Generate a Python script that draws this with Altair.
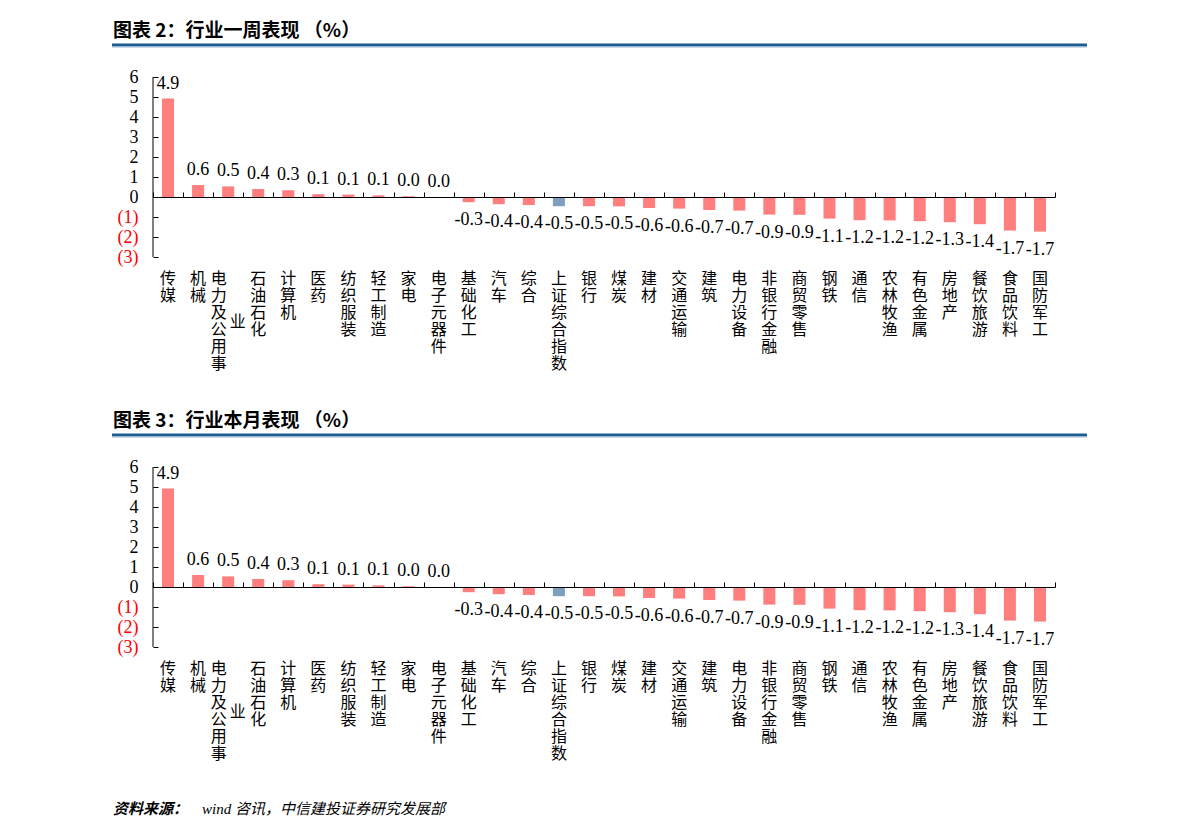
import altair as alt
import pandas as pd

CATEGORIES = ["传媒", "机械", "电力及公用事业", "石油石化", "计算机", "医药", "纺织服装",
              "轻工制造", "家电", "电子元器件", "基础化工", "汽车", "综合", "上证综合指数",
              "银行", "煤炭", "建材", "交通运输", "建筑", "电力设备", "非银行金融", "商贸零售",
              "钢铁", "通信", "农林牧渔", "有色金属", "房地产", "餐饮旅游", "食品饮料", "国防军工"]
WEEK = [4.92, 0.60, 0.53, 0.40, 0.34, 0.14, 0.12, 0.08, 0.04, 0.0, -0.26, -0.36, -0.40,
        -0.46, -0.46, -0.47, -0.55, -0.58, -0.65, -0.68, -0.88, -0.89, -1.08, -1.16,
        -1.17, -1.21, -1.26, -1.36, -1.68, -1.73]
MONTH = [4.92, 0.60, 0.53, 0.40, 0.34, 0.14, 0.12, 0.08, 0.04, 0.0, -0.26, -0.36, -0.40,
         -0.46, -0.46, -0.47, -0.55, -0.58, -0.65, -0.68, -0.88, -0.89, -1.08, -1.16,
         -1.17, -1.21, -1.26, -1.36, -1.68, -1.73]
INDEX_NAME = "上证综合指数"
Y_TICKS = [-3, -2, -1, 0, 1, 2, 3, 4, 5, 6]
TITLES = ["图表 2：行业一周表现 （%）", "图表 3：行业本月表现 （%）"]
SOURCE_HEAD = "资料来源："
SOURCE_TAIL = "wind 咨讯，中信建投证券研究发展部"

W, H = 902, 180
Y_MIN, Y_MAX = -3, 6
SERIF = "Liberation Serif, Noto Sans CJK SC"
CJK = "Noto Sans CJK SC"
PINK = "#FF7F7F"
STEEL = "#7F9FBF"
BLUE = "#1F5C8E"
LINE_H = 17


def wrap(label, n=6):
    return [label[i:i + n] for i in range(0, len(label), n)]


def panel(values, title, first, last):
    df = pd.DataFrame({"cat": CATEGORIES, "v": values})
    df["kind"] = ["index" if c == INDEX_NAME else "sector" for c in CATEGORIES]
    df["lbl"] = [f"{v:.1f}" for v in values]

    rows = []
    for c in CATEGORIES:
        cols = wrap(c)
        n = len(cols)
        for k, t in enumerate(cols):
            rows.append({"cat": c, "txt": "\n".join(list(t)),
                         "shift": (k - (n - 1) / 2) * 19,
                         "drop": (len(cols[0]) - len(t)) / 2 * LINE_H})
    labels = pd.DataFrame(rows)

    zero_px = H * Y_MAX / (Y_MAX - Y_MIN)
    x = alt.X("cat:N", sort=CATEGORIES, title=None,
              scale=alt.Scale(paddingInner=0, paddingOuter=0),
              axis=alt.Axis(orient="top", offset=-zero_px, labels=False, title=None,
                            domainColor="black", domainWidth=1, tickColor="black",
                            tickSize=5, tickBand="extent", zindex=1))
    y = alt.Y("v:Q", title=None,
              scale=alt.Scale(domain=[Y_MIN, Y_MAX], nice=False),
              axis=alt.Axis(values=Y_TICKS, offset=-5, tickSize=5, domain=False,
                            grid=False, title=None, tickColor="black", zindex=1,
                            labelFont=SERIF, labelFontSize=18, labelPadding=15,
                            labelExpr="datum.value < 0 ? '(' + abs(datum.value) + ')' : datum.label + '\u2005'",
                            labelColor={"condition": {"test": "datum.value < 0", "value": "#FF0000"},
                                        "value": "black"}))

    base = alt.Chart(df)
    layers = []
    if first:
        layers.append(alt.Chart(pd.DataFrame({"a": [0]})).mark_rect(color="white").encode(
            x=alt.value(-153), x2=alt.value(1191 - 153), y=alt.value(-77), y2=alt.value(839 - 77)))

    bars = base.mark_bar(width=alt.RelativeBandSize(0.4)).encode(
        x=x, y=y, y2=alt.datum(0),
        color=alt.Color("kind:N", scale=alt.Scale(domain=["sector", "index"], range=[PINK, STEEL]),
                        legend=None))
    layers.append(bars)

    pos = base.transform_filter("datum.v >= 0").mark_text(
        baseline="alphabetic", dy=-10, font=SERIF, fontSize=18, color="black").encode(
        x=x, y=y, text="lbl:N")
    neg = base.transform_filter("datum.v < 0").mark_text(
        baseline="top", dy=9, font=SERIF, fontSize=18, color="black").encode(
        x=x, y=y, text="lbl:N")
    layers += [pos, neg]

    yline = alt.Chart(pd.DataFrame({"a": [0]})).mark_rule(color="black", strokeWidth=1).encode(
        x=alt.value(0), y=alt.value(0), y2=alt.value(H))
    layers.append(yline)

    groups = labels.groupby(["shift", "drop"])
    for (s, d), sub in groups:
        layers.append(alt.Chart(sub).mark_text(
            baseline="top", align="center", dx=float(s), dy=float(d), font=SERIF, fontSize=16,
            lineBreak="\n", lineHeight=LINE_H, color="black").encode(
            x=x, y=alt.value(H + 14), text="txt:N"))

    layers.append(alt.Chart(pd.DataFrame({"t": [title]})).mark_text(
        align="left", baseline="alphabetic", font=CJK, fontWeight="bold", fontSize=19,
        color="black").encode(x=alt.value(-40), y=alt.value(-40), text="t:N"))
    layers.append(alt.Chart(pd.DataFrame({"a": [0]})).mark_rule(color=BLUE, strokeWidth=3).encode(
        x=alt.value(-41), x2=alt.value(934), y=alt.value(-32)))
    layers.append(alt.Chart(pd.DataFrame({"a": [0]})).mark_rule(color="#9DBBD9", strokeWidth=1).encode(
        x=alt.value(-41), x2=alt.value(934), y=alt.value(-30)))

    if last:
        layers.append(alt.Chart(pd.DataFrame({"t": [SOURCE_HEAD]})).mark_text(
            align="left", baseline="alphabetic", font=CJK, fontWeight="bold", fontStyle="italic",
            fontSize=15, color="black").encode(x=alt.value(-40), y=alt.value(347), text="t:N"))
        layers.append(alt.Chart(pd.DataFrame({"t": [SOURCE_TAIL]})).mark_text(
            align="left", baseline="alphabetic", font=SERIF, fontStyle="italic",
            fontSize=15, color="black").encode(x=alt.value(49), y=alt.value(347), text="t:N"))

    return alt.layer(*layers).properties(width=W, height=H)


p1 = panel(WEEK, TITLES[0], True, False)
p2 = panel(MONTH, TITLES[1], False, True)

chart = alt.vconcat(p1, p2, spacing=210, bounds="flush").properties(
    padding=0, background="white").configure_view(stroke=None)

chart.save("out.html", embed_options={"renderer": "svg", "actions": False})
